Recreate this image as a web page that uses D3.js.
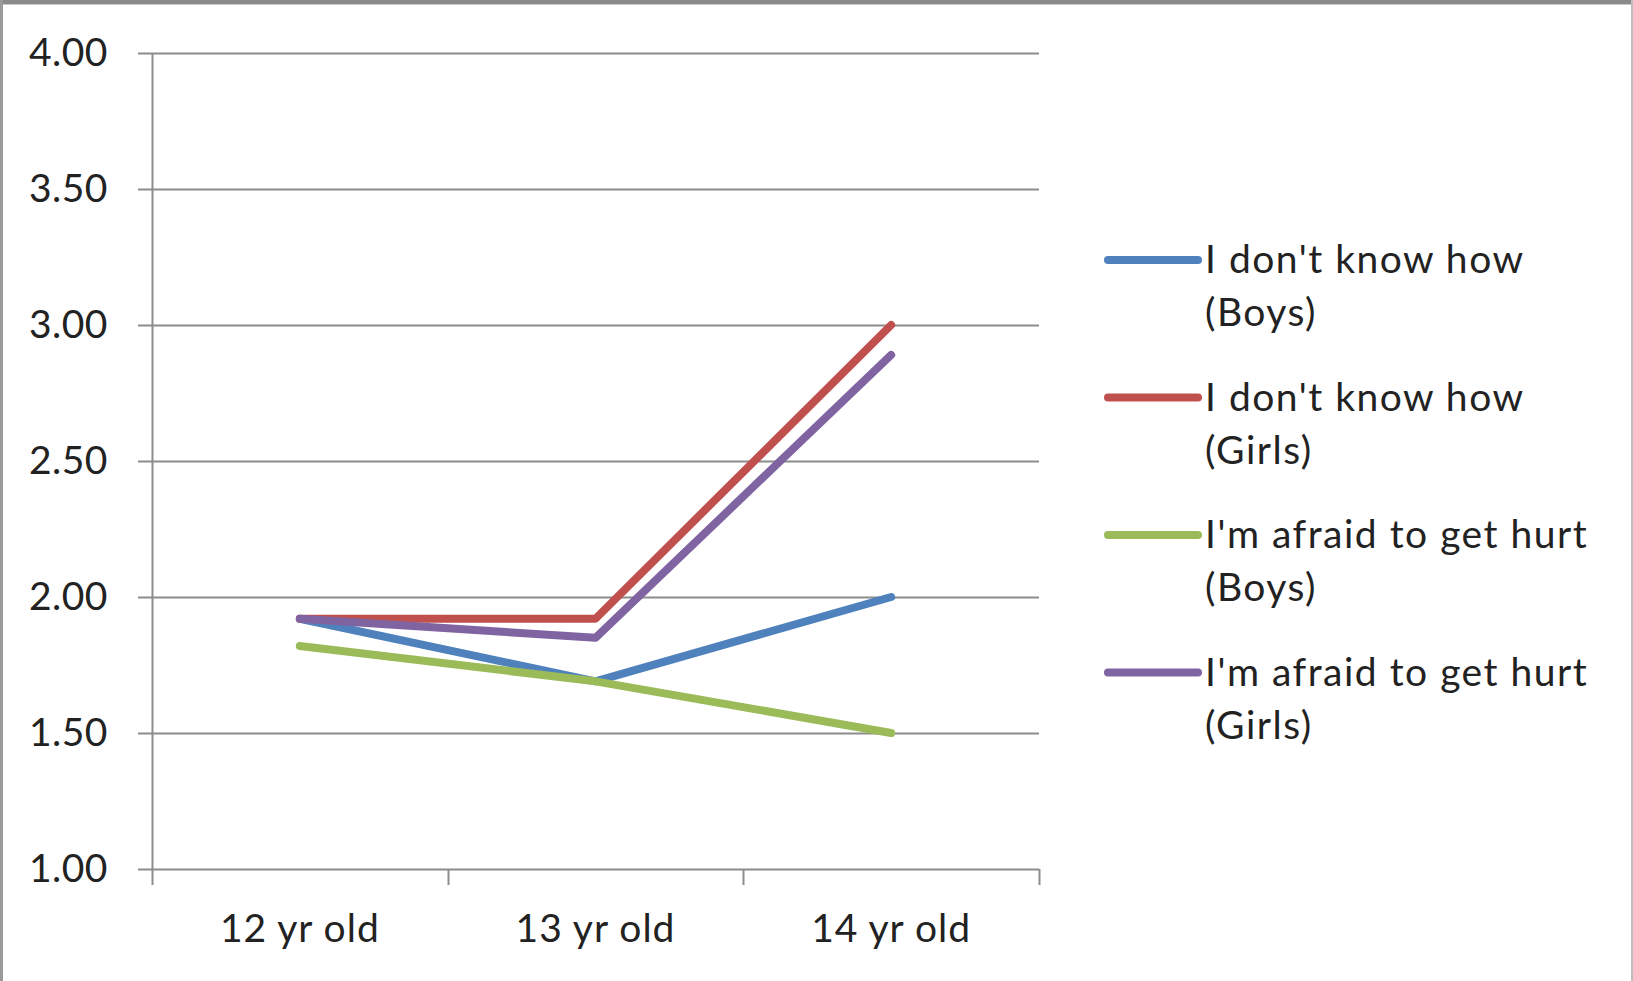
<!DOCTYPE html>
<html>
<head>
<meta charset="utf-8">
<script src="https://cdn.jsdelivr.net/npm/d3@7"></script>
<style>
  html, body { margin: 0; padding: 0; background: #fff; }
  svg { display: block; }
  text { font-family: Lato, "Open Sans", sans-serif; fill: #222; }
</style>
</head>
<body>
<svg id="chart" width="1633" height="981"></svg>
<script>
// Age groups on the x axis
const categories = ["12 yr old", "13 yr old", "14 yr old"];

// Mean scores per reason, by age group
const seriesNames = [
  ["I don't know how", "(Boys)"],
  ["I don't know how", "(Girls)"],
  ["I'm afraid to get hurt", "(Boys)"],
  ["I'm afraid to get hurt", "(Girls)"]
];
const dontKnowBoys  = [1.92, 1.69, 2.00];
const dontKnowGirls = [1.92, 1.92, 3.00];
const afraidBoys    = [1.82, 1.69, 1.50];
const afraidGirls   = [1.92, 1.85, 2.89];
const seriesColors  = ["#4F81BD", "#C0504D", "#9BBB59", "#8064A2"];

// y-axis ticks
const yTicks = [1.00, 1.50, 2.00, 2.50, 3.00, 3.50, 4.00];

const seriesValues = [dontKnowBoys, dontKnowGirls, afraidBoys, afraidGirls];

const svg = d3.select("#chart");
const W = 1633, H = 981;

// Frame around the chart area
svg.append("rect").attr("x", 0).attr("y", 0).attr("width", W).attr("height", H).attr("fill", "#fff");
svg.append("rect").attr("x", 0).attr("y", 0).attr("width", W).attr("height", 4).attr("fill", "#8a8a8a");
svg.append("line").attr("x1", 0).attr("x2", W).attr("y1", 4.5).attr("y2", 4.5).attr("stroke", "#c8c8c8").attr("stroke-width", 1);
svg.append("rect").attr("x", 0).attr("y", 0).attr("width", 3).attr("height", H).attr("fill", "#9a9a9a");
svg.append("rect").attr("x", W - 2).attr("y", 0).attr("width", 2).attr("height", H).attr("fill", "#bdbdbd");

const plot = { left: 152, right: 1039, top: 53, bottom: 869 };

const x = d3.scaleBand().domain(categories).range([plot.left, plot.right]).paddingInner(0).paddingOuter(0);
const y = d3.scaleLinear().domain([1, 4]).range([plot.bottom, plot.top]);

// Horizontal gridlines
svg.append("g").selectAll("line").data(yTicks).join("line")
  .attr("x1", plot.left - 14).attr("x2", plot.right)
  .attr("y1", d => Math.round(y(d)) + 0.5).attr("y2", d => Math.round(y(d)) + 0.5)
  .attr("stroke", "#8c8c8c").attr("stroke-width", 2);

// Vertical axis line
svg.append("line")
  .attr("x1", plot.left + 0.5).attr("x2", plot.left + 0.5)
  .attr("y1", plot.top).attr("y2", plot.bottom)
  .attr("stroke", "#8c8c8c").attr("stroke-width", 2);

// Category boundary ticks below the x axis
const bounds = categories.map(c => x(c)).concat([plot.right]);
svg.append("g").selectAll("line").data(bounds).join("line")
  .attr("x1", d => Math.round(d) + 0.5).attr("x2", d => Math.round(d) + 0.5)
  .attr("y1", plot.bottom).attr("y2", plot.bottom + 16)
  .attr("stroke", "#8c8c8c").attr("stroke-width", 2);

// y tick labels
svg.append("g").selectAll("text").data(yTicks).join("text")
  .attr("x", 108).attr("y", d => y(d) + 13)
  .attr("text-anchor", "end")
  .attr("font-size", 39)
  .attr("letter-spacing", "0.5px")
  .text(d => d3.format(".2f")(d));

// x tick labels
svg.append("g").selectAll("text").data(categories).join("text")
  .attr("x", d => x(d) + x.bandwidth() / 2).attr("y", 942)
  .attr("text-anchor", "middle")
  .attr("font-size", 39)
  .attr("letter-spacing", "1px")
  .text(d => d);

// Series lines
const line = d3.line()
  .x((d, i) => x(categories[i]) + x.bandwidth() / 2)
  .y(d => y(d));

svg.append("g").selectAll("path").data(seriesValues).join("path")
  .attr("d", d => line(d))
  .attr("fill", "none")
  .attr("stroke", (d, i) => seriesColors[i])
  .attr("stroke-width", 8)
  .attr("stroke-linecap", "round")
  .attr("stroke-linejoin", "round");

// Legend
const legend = svg.append("g");
const legendY0 = 260, legendStep = 137.5;
seriesNames.forEach((name, i) => {
  const ly = legendY0 + i * legendStep;
  legend.append("line")
    .attr("x1", 1108).attr("x2", 1198)
    .attr("y1", ly).attr("y2", ly)
    .attr("stroke", seriesColors[i]).attr("stroke-width", 8)
    .attr("stroke-linecap", "round");
  legend.append("text")
    .attr("x", 1205).attr("y", ly + 13)
    .attr("font-size", 39)
    .attr("letter-spacing", "1.5px")
    .text(name[0]);
  legend.append("text")
    .attr("x", 1205).attr("y", ly + 66)
    .attr("font-size", 39)
    .attr("letter-spacing", "1.5px")
    .text(name[1]);
});
</script>
</body>
</html>
